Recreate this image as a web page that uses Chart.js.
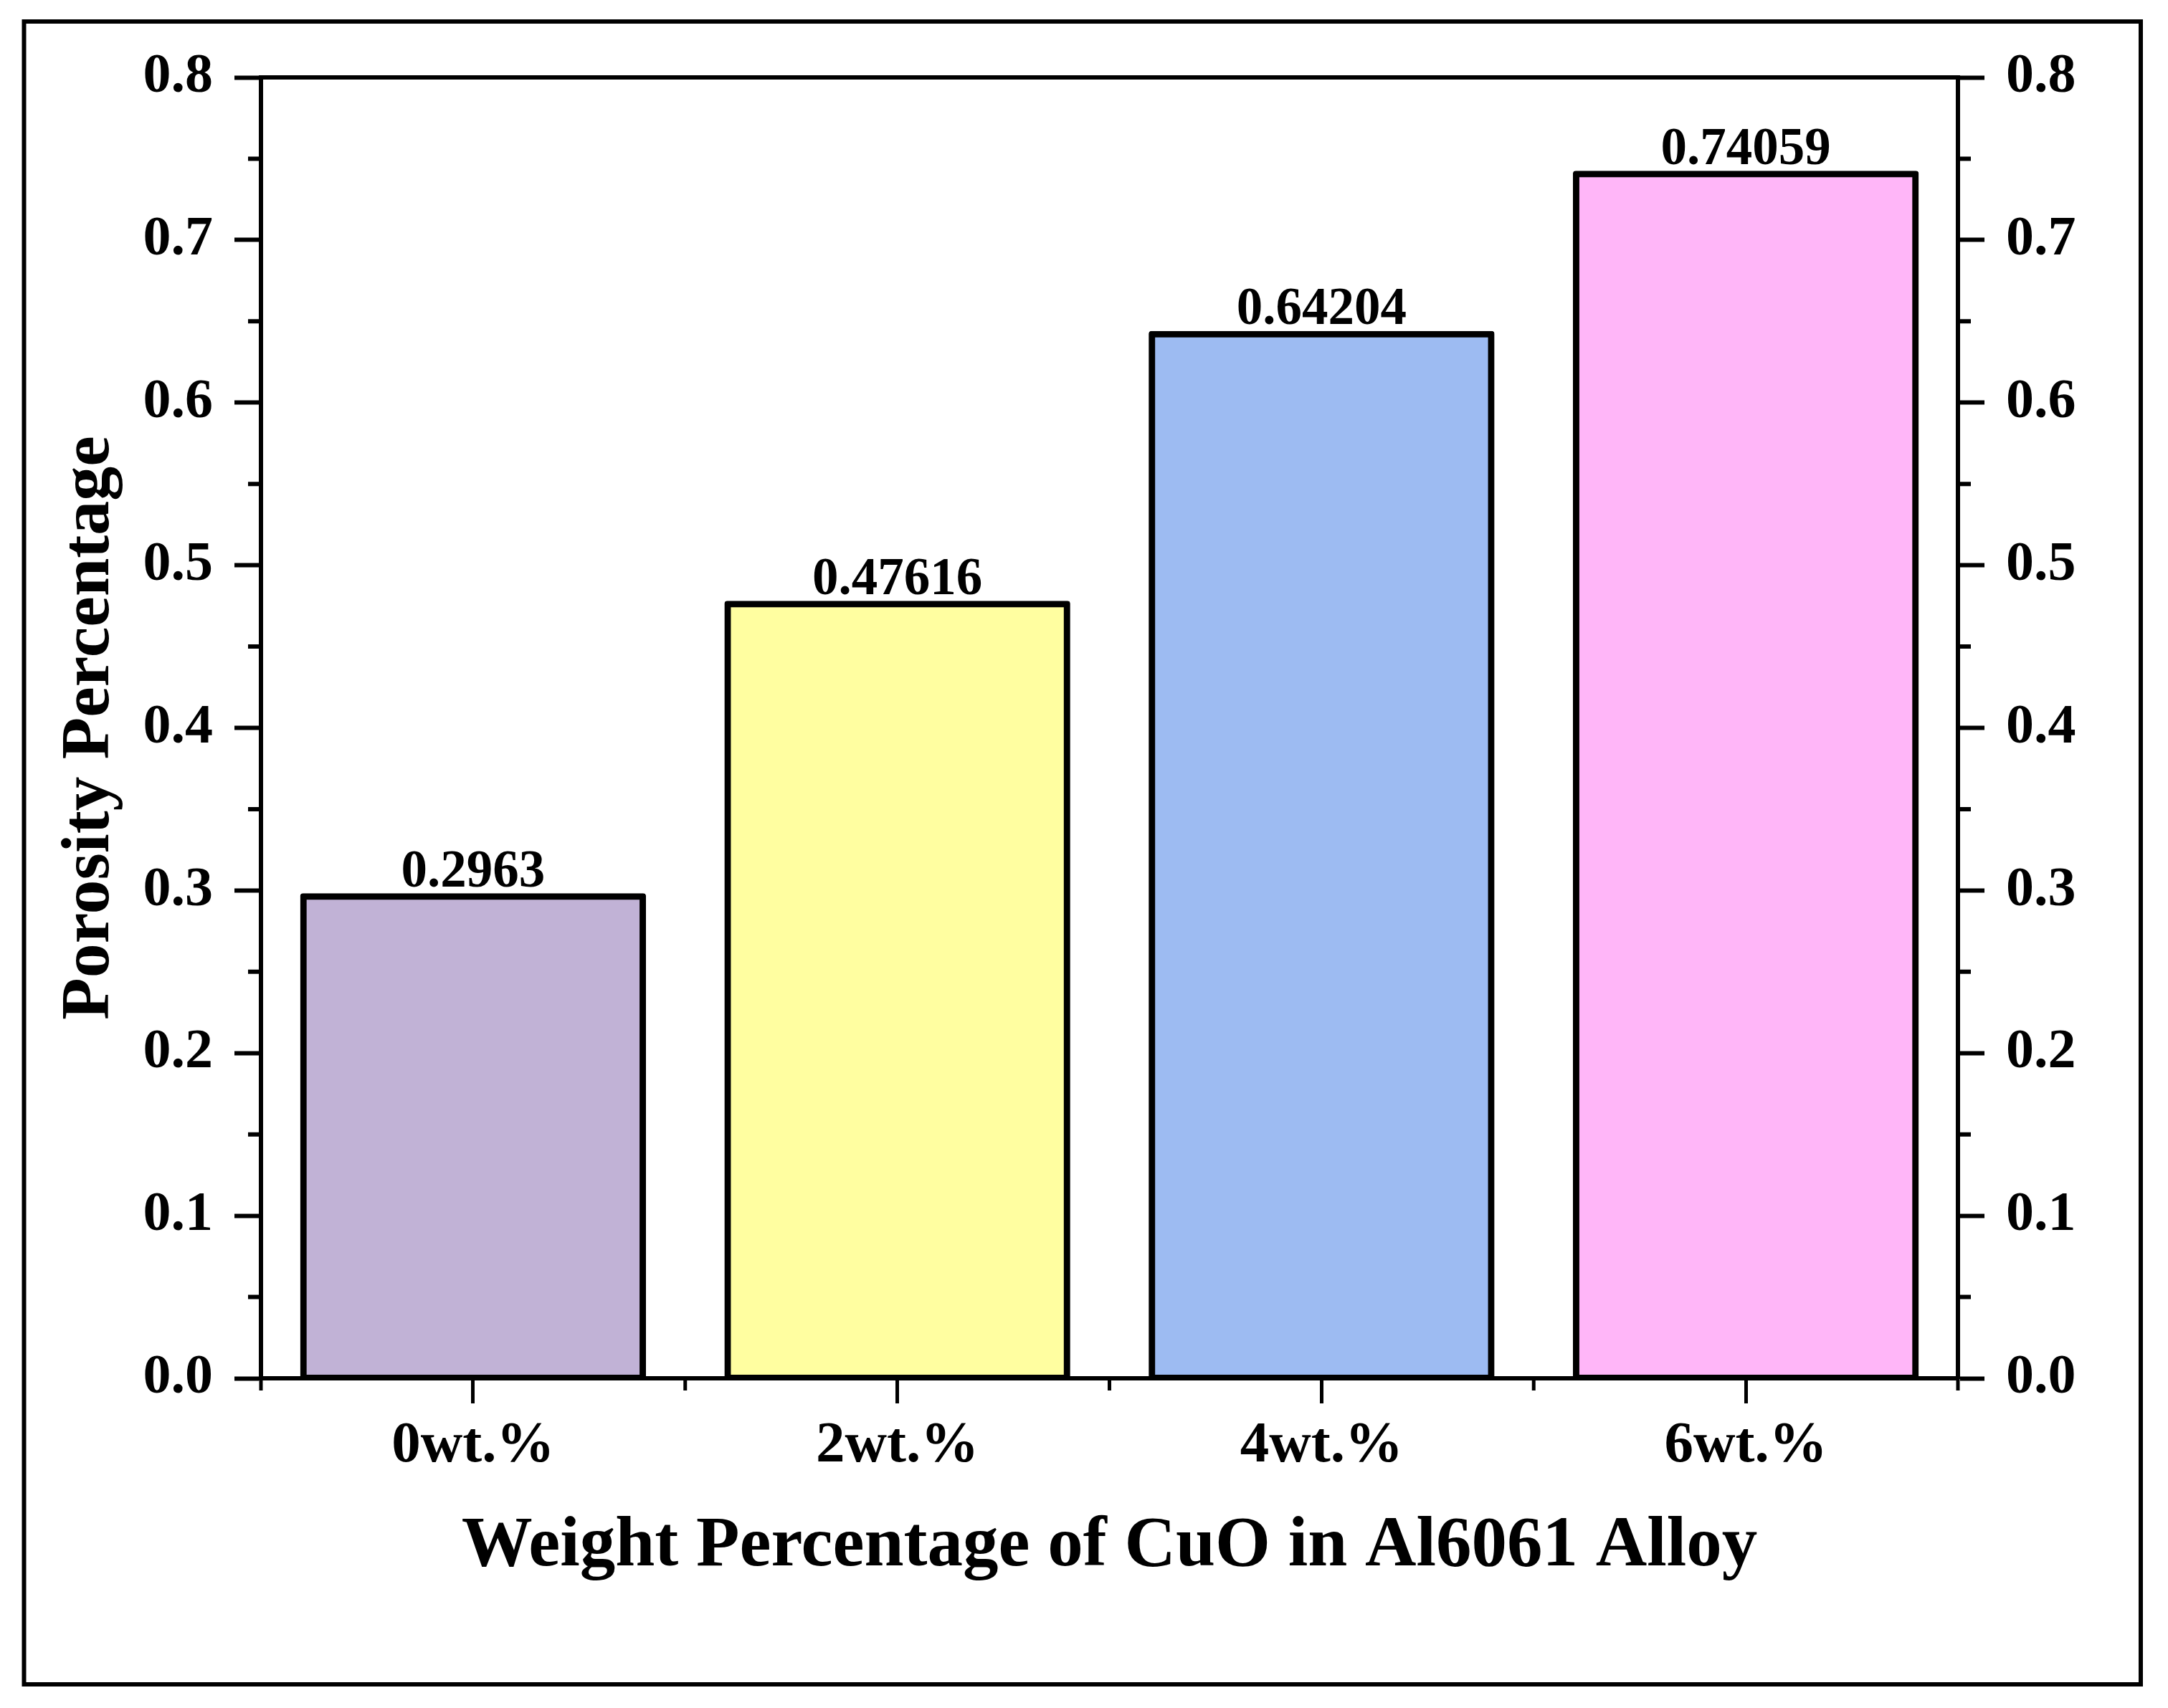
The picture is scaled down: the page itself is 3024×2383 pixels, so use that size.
<!DOCTYPE html>
<html>
<head>
<meta charset="utf-8">
<script src="https://cdn.jsdelivr.net/npm/chart.js@4"></script>
<style>
  html, body { margin: 0; padding: 0; background: #fff; }
  canvas { display: block; }
</style>
</head>
<body>
<canvas id="chart" width="3024" height="2383"></canvas>
<script>
const categories = ['0wt.%', '2wt.%', '4wt.%', '6wt.%'];
const porosity = [0.2963, 0.47616, 0.64204, 0.74059];
const barColors = ['#c1b2d6', '#fffea0', '#9dbbf2', '#ffb6f8'];
const yMajorTicks = [0, 0.1, 0.2, 0.3, 0.4, 0.5, 0.6, 0.7, 0.8];
const yMinorTicks = [0.05, 0.15, 0.25, 0.35, 0.45, 0.55, 0.65, 0.75];

const FAMILY = '"Liberation Serif", "Times New Roman", serif';
const yTickFont = { family: FAMILY, size: 78, weight: 'bold' };
const xTickFont = { family: FAMILY, size: 81, weight: 'bold' };

// minor ticks, value labels and the outer frame
const extras = {
  id: 'extras',
  afterDatasetsDraw(chart) {
    const { ctx } = chart;
    const meta = chart.getDatasetMeta(0);
    ctx.save();
    ctx.fillStyle = '#000';
    ctx.font = 'bold 73px ' + FAMILY;
    ctx.textAlign = 'center';
    ctx.textBaseline = 'alphabetic';
    meta.data.forEach((bar, i) => {
      ctx.fillText(String(porosity[i]), bar.x, bar.y - 14);
    });
    ctx.restore();
  },
  afterDraw(chart) {
    const { ctx, chartArea: a, scales } = chart;
    ctx.save();
    ctx.strokeStyle = '#000';
    ctx.lineWidth = 6;
    ctx.beginPath();
    yMinorTicks.forEach(v => {
      const y = scales.y.getPixelForValue(v);
      ctx.moveTo(a.left - 18, y); ctx.lineTo(a.left, y);
      ctx.moveTo(a.right, y); ctx.lineTo(a.right + 18, y);
    });
    ctx.stroke();
    ctx.lineWidth = 5;
    ctx.beginPath();
    for (let i = 0; i <= categories.length; i++) {
      const x = scales.x.getPixelForValue(i - 0.5);
      ctx.moveTo(x, a.bottom); ctx.lineTo(x, a.bottom + 17);
    }
    ctx.stroke();
    ctx.lineWidth = 6;
    ctx.strokeRect(33.5, 30, 2952.5, 2320);
    ctx.restore();
  }
};

const yAxis = (position, width, title) => ({
  position: position,
  min: yMajorTicks[0],
  max: yMajorTicks[yMajorTicks.length - 1],
  afterBuildTicks: s => { s.ticks = yMajorTicks.map(v => ({ value: v })); },
  ticks: {
    color: '#000',
    font: yTickFont,
    padding: 30,
    callback: v => Number(v).toFixed(1),
  },
  grid: { drawOnChartArea: false, tickLength: 37, tickWidth: 6, tickColor: '#000' },
  border: { color: '#000', width: 6 },
  title: title ? {
    display: true,
    text: title,
    color: '#000',
    font: { family: FAMILY, size: 96, weight: 'bold' },
    padding: { top: 69, bottom: 0 },
  } : { display: false },
  afterFit: s => { s.width = width; },
});

new Chart(document.getElementById('chart'), {
  type: 'bar',
  data: {
    labels: categories,
    datasets: [
      {
        data: porosity,
        backgroundColor: barColors,
        borderColor: '#000',
        borderWidth: 9,
        borderSkipped: false,
        borderRadius: 4,
        inflateAmount: 4.5,
        barPercentage: 0.8,
        categoryPercentage: 1,
      },
    ],
  },
  options: {
    responsive: false,
    devicePixelRatio: 1,
    animation: false,
    layout: { padding: { top: 108, left: 0, right: 0, bottom: 0 } },
    plugins: {
      legend: { display: false },
      tooltip: { enabled: false },
    },
    scales: {
      x: {
        position: 'bottom',
        offset: true,
        grid: { offset: false, drawOnChartArea: false, tickLength: 35, tickWidth: 5, tickColor: '#000' },
        border: { color: '#000', width: 6 },
        ticks: { color: '#000', font: xTickFont, padding: 11, maxRotation: 0 },
        title: {
          display: true,
          text: 'Weight Percentage of CuO in Al6061 Alloy',
          color: '#000',
          font: { family: FAMILY, size: 99, weight: 'bold' },
          padding: { top: 0, bottom: 165 },
        },
        afterFit: s => { s.height = 460; },
      },
      xTop: {
        type: 'category',
        labels: categories,
        position: 'top',
        offset: true,
        grid: { display: false },
        ticks: { display: false },
        border: { color: '#000', width: 6 },
        afterFit: s => { s.height = 0; },
      },
      y: yAxis('left', 364, 'Porosity Percentage'),
      y2: yAxis('right', 293, null),
    },
  },
  plugins: [extras],
});
</script>
</body>
</html>
